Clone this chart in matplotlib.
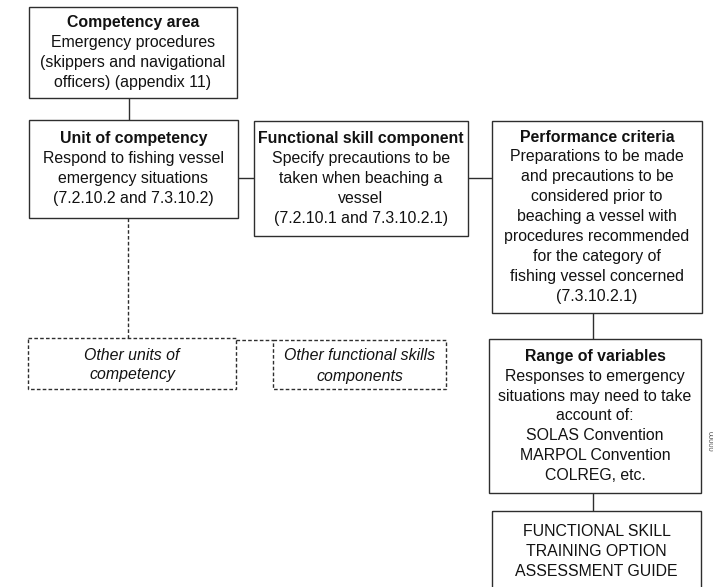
import matplotlib
matplotlib.use("Agg")
import matplotlib.pyplot as plt
from matplotlib.patches import Rectangle

# ---- content ----
titles = ["Competency area", "Unit of competency", "Functional skill component",
          "Performance criteria", "Range of variables", "", "", ""]
bodies = [
    ["Emergency procedures", "(skippers and navigational", "officers) (appendix 11)"],
    ["Respond to fishing vessel", "emergency situations", "(7.2.10.2 and 7.3.10.2)"],
    ["Specify precautions to be", "taken when beaching a", "vessel", "(7.2.10.1 and 7.3.10.2.1)"],
    ["Preparations to be made", "and precautions to be", "considered prior to",
     "beaching a vessel with", "procedures recommended", "for the category of",
     "fishing vessel concerned", "(7.3.10.2.1)"],
    ["Responses to emergency", "situations may need to take", "account of:",
     "SOLAS Convention", "MARPOL Convention", "COLREG, etc."],
    ["FUNCTIONAL SKILL", "TRAINING OPTION", "ASSESSMENT GUIDE"],
    ["Other units of", "competency"],
    ["Other functional skills", "components"],
]
dashed = [False, False, False, False, False, False, True, True]
side_label = "00000"

# ---- layout (pixels: x0, y0, x1, y1) ----
boxes = [
    (29, 7, 237, 98),
    (29, 120, 238, 218),
    (254, 121, 468, 236),
    (492, 121, 702, 313),
    (489, 339, 701, 493),
    (492, 511, 701, 593),
    (28, 338, 236, 389),
    (273, 340, 446, 389),
]
solid_links = [((129, 98), (129, 120)), ((238, 178), (254, 178)),
               ((468, 178), (492, 178)), ((593, 313), (593, 339)),
               ((593, 493), (593, 511))]
dashed_links = [((128, 218), (128, 338)), ((236, 339.5), (273, 339.5))]

W, H = 713, 587
fig = plt.figure(figsize=(W / 100, H / 100), dpi=100)
ax = fig.add_axes([0, 0, 1, 1])
ax.set_xlim(0, W)
ax.set_ylim(H, 0)
ax.axis("off")

edge = "#2e2e2e"
txt = "#121212"
font = ["Liberation Sans", "DejaVu Sans"]
fs = 11.4
pitch = 20
dash = (0, (2.6, 1.6))

for (x0, y0, x1, y1), title, body, dsh in zip(boxes, titles, bodies, dashed):
    ax.add_patch(Rectangle((x0, y0), x1 - x0, y1 - y0, fill=False, edgecolor=edge,
                           linewidth=1.0, linestyle=dash if dsh else "-"))
    lines = ([(title, "bold")] if title else []) + [(b, "normal") for b in body]
    n = len(lines)
    cy = (y0 + y1) / 2
    if (x0, y0) == boxes[5][:2]:
        cy = 552
    if dsh:
        cy += 1.5
    cx = (x0 + x1) / 2
    for i, (s, w) in enumerate(lines):
        y = cy + (i - (n - 1) / 2) * pitch
        ax.text(cx, y, s, ha="center", va="center", fontsize=fs, fontweight=w,
                fontstyle="italic" if dsh else "normal", family=font, color=txt)

for (a, b) in solid_links:
    ax.plot([a[0], b[0]], [a[1], b[1]], color=edge, lw=1.0, solid_capstyle="butt")
for (a, b) in dashed_links:
    ax.plot([a[0], b[0]], [a[1], b[1]], color=edge, lw=1.0, linestyle=dash)

ax.text(709, 441, side_label, rotation=270, ha="center", va="center", fontsize=5.5,
        family=font, color="#555555")

fig.savefig("out.png", dpi=100)
